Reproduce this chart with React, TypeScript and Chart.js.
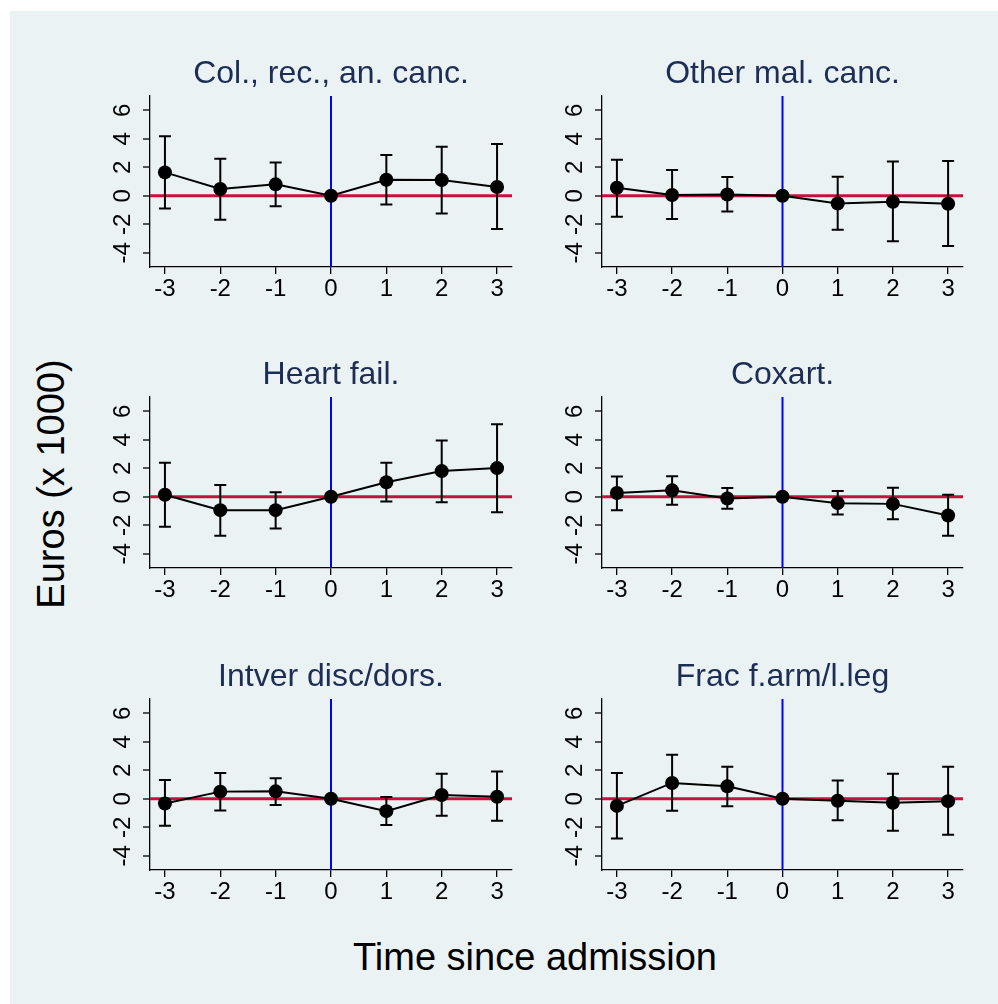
import React, { useEffect, useRef } from "react";
import { Chart, registerables } from "chart.js";

Chart.register(...registerables);

const FONT = "'Liberation Sans', Arial, Helvetica, sans-serif";

// ---- data ----
const periods = [-3, -2, -1, 0, 1, 2, 3];
const yTickValues = [-4, -2, 0, 2, 4, 6];
const panelTitles = [
  "Col., rec., an. canc.",
  "Other mal. canc.",
  "Heart fail.",
  "Coxart.",
  "Intver disc/dors.",
  "Frac f.arm/l.leg",
];

const colRecEst = [1.64, 0.47, 0.8, 0, 1.12, 1.1, 0.61];
const colRecLo = [-0.89, -1.69, -0.73, 0, -0.61, -1.24, -2.34];
const colRecHi = [4.17, 2.6, 2.34, 0, 2.86, 3.44, 3.63];

const otherMalEst = [0.56, 0.05, 0.09, 0, -0.54, -0.42, -0.56];
const otherMalLo = [-1.48, -1.64, -1.1, 0, -2.39, -3.19, -3.52];
const otherMalHi = [2.53, 1.8, 1.31, 0, 1.34, 2.41, 2.44];

const heartEst = [0.14, -0.94, -0.94, 0, 1.02, 1.8, 2.01];
const heartLo = [-2.1, -2.74, -2.22, 0, -0.33, -0.38, -1.09];
const heartHi = [2.39, 0.83, 0.31, 0, 2.39, 3.95, 5.08];

const coxartEst = [0.26, 0.45, -0.12, 0, -0.45, -0.5, -1.32];
const coxartLo = [-0.94, -0.57, -0.85, 0, -1.25, -1.58, -2.74];
const coxartHi = [1.42, 1.44, 0.61, 0, 0.4, 0.64, 0.14];

const intverEst = [-0.33, 0.5, 0.52, 0, -0.87, 0.26, 0.14];
const intverLo = [-1.89, -0.83, -0.43, 0, -1.84, -1.2, -1.54];
const intverHi = [1.32, 1.8, 1.44, 0, 0.12, 1.75, 1.91];

const fracEst = [-0.5, 1.11, 0.87, 0, -0.14, -0.28, -0.17];
const fracLo = [-2.79, -0.85, -0.52, 0, -1.51, -2.24, -2.53];
const fracHi = [1.8, 3.09, 2.24, 0, 1.28, 1.75, 2.24];

const panelEst = [colRecEst, otherMalEst, heartEst, coxartEst, intverEst, fracEst];
const panelLo = [colRecLo, otherMalLo, heartLo, coxartLo, intverLo, fracLo];
const panelHi = [colRecHi, otherMalHi, heartHi, coxartHi, intverHi, fracHi];

// ---- layout ----
const colLeft = [150, 602];
const colRight = [512, 963];
const rowTop = [96, 397, 699];
const rowBottom = [267, 568, 870];
const PAD_LEFT = 70;
const PAD_TOP = 60;
const PAD_RIGHT = 10;
const PAD_BOTTOM = 45;

const refLinesPlugin = {
  id: "refLines",
  beforeDatasetsDraw(chart: any) {
    const { ctx, chartArea, scales } = chart;
    const y0 = scales.y.getPixelForValue(0);
    const x0 = scales.x.getPixelForValue(0);
    ctx.save();
    ctx.strokeStyle = "#C8103E";
    ctx.lineWidth = 3;
    ctx.beginPath();
    ctx.moveTo(chartArea.left, y0);
    ctx.lineTo(chartArea.right, y0);
    ctx.stroke();
    ctx.strokeStyle = "#0000FF";
    ctx.lineWidth = 2;
    ctx.beginPath();
    ctx.moveTo(x0, chartArea.top);
    ctx.lineTo(x0, chartArea.bottom);
    ctx.stroke();
    ctx.restore();
  },
};

const errorBarPlugin = {
  id: "errorBars",
  beforeDatasetsDraw(chart: any, _args: any, opts: any) {
    const { ctx, scales } = chart;
    const lo: number[] = opts.lo;
    const hi: number[] = opts.hi;
    const xs: number[] = opts.xs;
    ctx.save();
    ctx.strokeStyle = "#000";
    ctx.lineWidth = 2;
    for (let i = 0; i < xs.length; i++) {
      if (lo[i] === hi[i]) continue;
      const px = scales.x.getPixelForValue(xs[i]);
      const pl = scales.y.getPixelForValue(lo[i]);
      const ph = scales.y.getPixelForValue(hi[i]);
      ctx.beginPath();
      ctx.moveTo(px, pl);
      ctx.lineTo(px, ph);
      ctx.moveTo(px - 6, pl);
      ctx.lineTo(px + 6, pl);
      ctx.moveTo(px - 6, ph);
      ctx.lineTo(px + 6, ph);
      ctx.stroke();
    }
    ctx.restore();
  },
};

const panelTitlePlugin = {
  id: "panelTitle",
  afterDraw(chart: any, _args: any, opts: any) {
    const { ctx, chartArea } = chart;
    ctx.save();
    ctx.font = `32px ${FONT}`;
    ctx.fillStyle = "#1E2D55";
    ctx.textAlign = "center";
    ctx.textBaseline = "middle";
    ctx.fillText(opts.text, (chartArea.left + chartArea.right) / 2, chartArea.top - 22);
    ctx.restore();
  },
};

function Panel({ idx }: { idx: number }) {
  const ref = useRef<HTMLCanvasElement>(null);
  const col = idx % 2;
  const row = Math.floor(idx / 2);
  const left = colLeft[col] - PAD_LEFT;
  const top = rowTop[row] - PAD_TOP;
  const width = colRight[col] - colLeft[col] + PAD_LEFT + PAD_RIGHT;
  const height = rowBottom[row] - rowTop[row] + PAD_TOP + PAD_BOTTOM;

  useEffect(() => {
    if (!ref.current) return;
    const est = panelEst[idx];
    const chart = new Chart(ref.current, {
      type: "line",
      data: {
        datasets: [
          {
            data: periods.map((x, i) => ({ x, y: est[i] })),
            borderColor: "#000",
            borderWidth: 2,
            pointRadius: 7,
            pointHoverRadius: 7,
            pointBackgroundColor: "#000",
            pointBorderWidth: 0,
            tension: 0,
            fill: false,
          },
        ],
      },
      options: {
        responsive: false,
        animation: false,
        devicePixelRatio: 1,
        layout: { padding: { left: 0, top: PAD_TOP, right: PAD_RIGHT, bottom: 0 } },
        plugins: {
          legend: { display: false },
          tooltip: { enabled: false },
          errorBars: { lo: panelLo[idx], hi: panelHi[idx], xs: periods },
          panelTitle: { text: panelTitles[idx] },
        } as any,
        scales: {
          x: {
            type: "linear",
            min: -3.27,
            max: 3.27,
            afterBuildTicks: (s: any) => {
              s.ticks = periods.map((v) => ({ value: v }));
            },
            afterFit: (s: any) => {
              s.height = PAD_BOTTOM;
            },
            grid: {
              drawOnChartArea: false,
              color: "#000",
              tickLength: 7,
              lineWidth: 1.3,
            },
            border: { display: true, color: "#000", width: 1.3 },
            ticks: {
              font: { family: FONT, size: 24 },
              color: "#000",
              padding: 1,
              minRotation: 0,
              maxRotation: 0,
              autoSkip: false,
              callback: (v: any) => String(v),
            },
          },
          y: {
            type: "linear",
            min: -5,
            max: 7,
            afterBuildTicks: (s: any) => {
              s.ticks = yTickValues.map((v) => ({ value: v }));
            },
            afterFit: (s: any) => {
              s.width = PAD_LEFT;
            },
            grid: {
              drawOnChartArea: true,
              color: "#EAF2F3",
              lineWidth: 2,
              tickColor: "#000",
              tickLength: 7,
              tickWidth: 1.3,
            },
            border: { display: true, color: "#000", width: 1.3 },
            ticks: {
              font: { family: FONT, size: 24 },
              color: "#000",
              minRotation: 90,
              maxRotation: 90,
              crossAlign: "center",
              padding: 9,
              autoSkip: false,
              callback: (v: any) => String(v),
            },
          },
        },
      },
      plugins: [refLinesPlugin, errorBarPlugin, panelTitlePlugin],
    } as any);
    return () => chart.destroy();
  }, [idx]);

  return (
    <canvas
      ref={ref}
      width={width}
      height={height}
      style={{ position: "absolute", left, top, width, height }}
    />
  );
}

export default function App() {
  return (
    <div
      style={{
        position: "absolute",
        left: 0,
        top: 0,
        width: 998,
        height: 1004,
        background: "#FFFFFF",
        overflow: "hidden",
        fontFamily: FONT,
      }}
    >
      <div
        style={{
          position: "absolute",
          left: 10,
          top: 11,
          width: 988,
          height: 993,
          background: "#EAF2F3",
        }}
      />
      {[0, 1, 2, 3, 4, 5].map((i) => (
        <Panel key={i} idx={i} />
      ))}
      <div
        style={{
          position: "absolute",
          left: 235,
          top: 938,
          width: 600,
          height: 38,
          lineHeight: "38px",
          fontSize: 38,
          textAlign: "center",
          color: "#000",
          whiteSpace: "nowrap",
        }}
      >
        Time since admission
      </div>
      <div
        style={{
          position: "absolute",
          left: 51 - 200,
          top: 484 - 19,
          width: 400,
          height: 38,
          lineHeight: "38px",
          fontSize: 38,
          textAlign: "center",
          color: "#000",
          whiteSpace: "nowrap",
          transform: "rotate(-90deg)",
          transformOrigin: "50% 50%",
        }}
      >
        Euros (x 1000)
      </div>
    </div>
  );
}
